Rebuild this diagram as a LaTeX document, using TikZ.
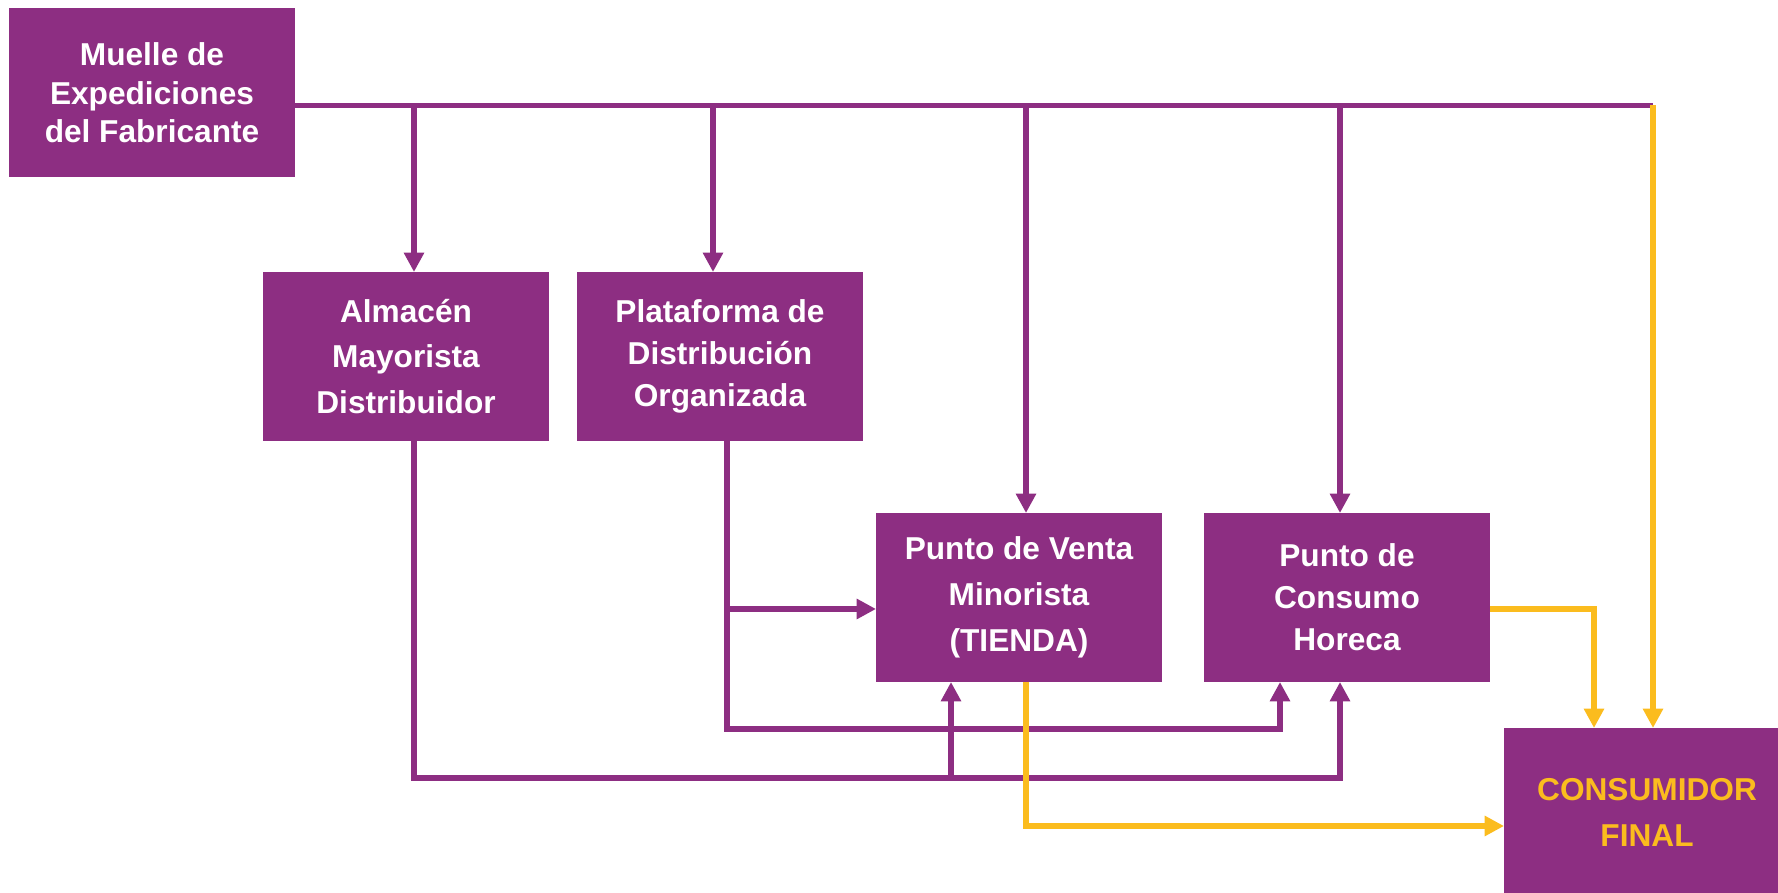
\documentclass[tikz,border=0pt]{standalone}
\usepackage{fontspec}
\setmainfont{Liberation Sans}
\usetikzlibrary{arrows.meta}
\definecolor{morado}{RGB}{141,46,130}
\definecolor{amarillo}{RGB}{251,188,30}
\begin{document}
\begin{tikzpicture}[line width=1.6pt,>={Triangle[width=5.5pt,length=5.5pt]}]
        \tikzstyle{caja}=[fill=morado,text=white,minimum width=2.86cm,minimum height=1.69cm,inner sep=0pt,outer sep=0pt,align=center,font=\bfseries\fontsize{9}{13}\selectfont];
        \tikzstyle{flujo}=[draw=morado];
        \tikzstyle{final}=[draw=amarillo];
        \useasboundingbox (0,0) rectangle (17.78,-8.93);
        \node[caja,font=\bfseries\fontsize{9}{11}\selectfont] (muelle) at (1.52,-0.93) {Muelle de\\Expediciones\\del Fabricante};
        \node[caja] (almacen) at (4.06,-3.565) {Almacén\\Mayorista\\Distribuidor};
        \node[caja,font=\bfseries\fontsize{9}{12}\selectfont] (plataforma) at (7.20,-3.565) {Plataforma de\\Distribución\\Organizada};
        \node[caja] (venta) at (10.19,-5.975) {Punto de Venta\\Minorista\\(TIENDA)};
        \node[caja,font=\bfseries\fontsize{9}{12}\selectfont] (horeca) at (13.47,-5.975) {Punto de\\Consumo\\Horeca};
        \node[caja,text=amarillo] (consumidor) at (16.47,-8.125) {CONSUMIDOR\\FINAL};
        % puntos de paso
        \coordinate (nivel) at (0,-1.055);
        \coordinate (abajo) at (0,-7.78);
        \coordinate (medio) at (0,-7.29);
        \coordinate (cn) at ([xshift=0.6mm]consumidor.north);
        \coordinate (bus) at (cn |- nivel);
        \coordinate (an) at ([xshift=0.8mm]almacen.north);
        \coordinate (pn) at ([xshift=-0.7mm]plataforma.north);
        \coordinate (vn) at ([xshift=0.7mm]venta.north);
        \coordinate (hn) at ([xshift=-0.7mm]horeca.north);
        \coordinate (as) at ([xshift=0.8mm]almacen.south);
        \coordinate (ps) at ([xshift=0.7mm]plataforma.south);
        \coordinate (vs) at ([xshift=-6.8mm]venta.south);
        \coordinate (hs) at ([xshift=-0.7mm]horeca.south);
        \coordinate (hs2) at ([xshift=-6.7mm]horeca.south);
        \coordinate (vw) at ([yshift=-1.15mm]venta.west);
        % desde el fabricante
        \draw[flujo] (muelle.east |- bus) -- (bus);
        \draw[flujo,->] (an |- bus) -- (an);
        \draw[flujo,->] (pn |- bus) -- (pn);
        \draw[flujo,->] (vn |- bus) -- (vn);
        \draw[flujo,->] (hn |- bus) -- (hn);
        % mayorista y plataforma
        \draw[flujo,->] (as) -- (as |- abajo) -- (hs |- abajo) -- (hs);
        \draw[flujo,->] (vs |- abajo) -- (vs);
        \draw[flujo,->] (ps) -- (ps |- medio) -- (hs2 |- medio) -- (hs2);
        \draw[flujo,->] (ps |- vw) -- (vw);
        % al consumidor
        \draw[final,->] (bus) -- (cn);
        \draw[final,->] ([xshift=0.7mm]venta.south) |- ([yshift=-1.35mm]consumidor.west);
        \draw[final,->] ([yshift=-1.15mm]horeca.east) -| ([xshift=-5.3mm]consumidor.north);
      \end{tikzpicture}
\end{document}
